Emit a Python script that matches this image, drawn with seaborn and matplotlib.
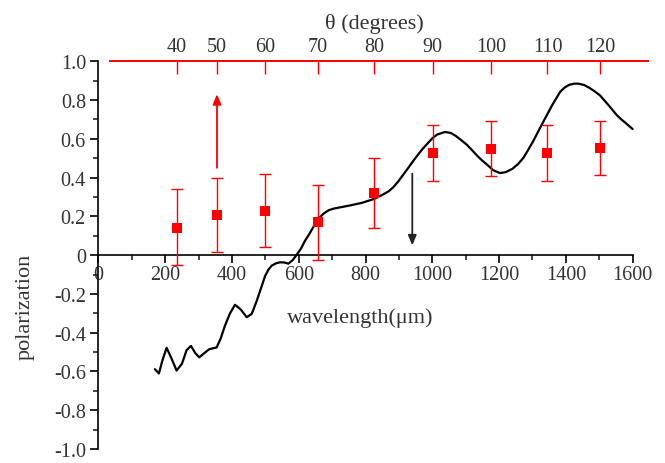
import numpy as np
import pandas as pd
import matplotlib
matplotlib.use("Agg")
import matplotlib.pyplot as plt
import seaborn as sns

# measured points (wavelength in um, polarization, error bar limits)
wavelength = [235, 355, 499, 658, 826, 1001, 1176, 1345, 1502]
polarization = [0.14, 0.205, 0.23, 0.17, 0.32, 0.525, 0.545, 0.525, 0.55]
err_low = [-0.052, 0.017, 0.043, -0.025, 0.14, 0.38, 0.406, 0.38, 0.414]
err_high = [0.34, 0.40, 0.42, 0.36, 0.50, 0.672, 0.689, 0.672, 0.694]
theta = [40, 50, 60, 70, 80, 90, 100, 110, 120]

# model curve
curve_x = [169, 181, 192, 204, 218, 234, 250, 264, 277, 290, 302, 317, 332, 354,
           366, 379, 394, 409, 426, 444, 459, 474, 487, 499, 509, 519, 532, 544,
           557, 569, 582, 594, 607, 619, 632, 644, 652, 660, 675, 690, 705, 720,
           753, 790, 826, 855, 870, 883, 898, 913, 928, 943, 958, 972, 987, 1001,
           1015, 1038, 1055, 1070, 1085, 1103, 1118, 1133, 1148, 1163, 1183, 1203,
           1220, 1240, 1257, 1273, 1288, 1303, 1318, 1333, 1358, 1383, 1397, 1410,
           1425, 1438, 1455, 1470, 1486, 1502, 1527, 1552, 1566, 1580, 1600]
curve_y = [-0.588, -0.61, -0.54, -0.478, -0.53, -0.595, -0.56, -0.49, -0.468, -0.505,
           -0.527, -0.505, -0.485, -0.476, -0.43, -0.363, -0.3, -0.256, -0.28, -0.32,
           -0.303, -0.236, -0.17, -0.108, -0.075, -0.054, -0.042, -0.037, -0.038,
           -0.044, -0.025, 0.002, 0.035, 0.075, 0.11, 0.146, 0.17, 0.19, 0.215,
           0.232, 0.24, 0.245, 0.256, 0.27, 0.29, 0.315, 0.33, 0.35, 0.38, 0.415,
           0.45, 0.486, 0.52, 0.55, 0.578, 0.604, 0.622, 0.635, 0.63, 0.615, 0.595,
           0.57, 0.543, 0.515, 0.49, 0.468, 0.437, 0.423, 0.428, 0.445, 0.47, 0.502,
           0.545, 0.59, 0.64, 0.689, 0.77, 0.842, 0.865, 0.878, 0.884, 0.884, 0.877,
           0.863, 0.845, 0.824, 0.775, 0.723, 0.7, 0.68, 0.65]

sns.set_style("ticks")
plt.rcParams['font.family'] = ['Liberation Serif', 'DejaVu Serif']

fig = plt.figure(figsize=(6.65, 4.64), dpi=100)
ax = fig.add_axes([0.1481, 0.030, 0.8293, 0.836])

curve = pd.DataFrame({"wl": curve_x, "pol": curve_y})
sns.lineplot(data=curve, x="wl", y="pol", color="black", linewidth=1.6, ax=ax,
             sort=False, solid_joinstyle="round", solid_capstyle="round")

pts = pd.DataFrame({"wl": wavelength, "pol": polarization})
yerr = [np.array(polarization) - np.array(err_low), np.array(err_high) - np.array(polarization)]
ax.errorbar(wavelength, polarization, yerr=yerr, fmt="none", ecolor="red",
            elinewidth=1.0, capsize=4.5, capthick=1.0, zorder=3)
sns.scatterplot(data=pts, x="wl", y="pol", marker="s", color="red", s=60,
                edgecolor="red", linewidth=0, ax=ax, zorder=4)

# arrows
ax.annotate("", xy=(355, 0.83), xytext=(355, 0.45),
            arrowprops=dict(arrowstyle="-|>,head_length=0.6,head_width=0.25",
                            color="red", lw=1.3, shrinkA=0, shrinkB=0))
ax.annotate("", xy=(940, 0.05), xytext=(940, 0.42),
            arrowprops=dict(arrowstyle="-|>,head_length=0.6,head_width=0.25",
                            color="#222222", lw=1.3, shrinkA=0, shrinkB=0))

ax.set_xlim(0, 1652)
ax.set_ylim(-1.0, 1.0)

ax.spines['right'].set_visible(False)
ax.spines['top'].set_visible(False)
ax.spines['bottom'].set_position(('data', 0))
ax.spines['bottom'].set_bounds(0, 1600)
ax.spines['left'].set_bounds(-1.0, 1.0)
for s in ['left', 'bottom']:
    ax.spines[s].set_linewidth(1.2)
    ax.spines[s].set_color('black')

ax.set_xticks(np.arange(0, 1601, 200))
ax.set_xticks(np.arange(100, 1600, 200), minor=True)
ax.set_yticks(np.arange(-1.0, 1.01, 0.2))
ax.set_yticks(np.arange(-0.9, 1.0, 0.2), minor=True)
ylabels = ["0" if abs(v) < 1e-9 else f"{v:.1f}" for v in np.arange(-1.0, 1.01, 0.2)]
ax.set_yticklabels(ylabels)
ax.tick_params(axis='both', which='major', direction='out', length=6, width=1.2,
               labelsize=14.5, colors='black', labelcolor='#333333')
ax.tick_params(axis='both', which='minor', direction='out', length=3.5, width=1.2)
ax.tick_params(axis='x', pad=1)
ax.tick_params(axis='y', pad=3)

ax.set_xlabel("wavelength(μm)", fontsize=16, color='#333333')
ax.xaxis.set_label_coords(0.474, 0.339)
ax.xaxis.label.set_va('center')
ax.set_ylabel("polarization", fontsize=16, color='#333333')
ax.yaxis.set_label_coords(-0.133, 0.369)
ax.yaxis.label.set_va('center')

# top theta axis
ax2 = ax.twiny()
ax2.set_xlim(ax.get_xlim())
for s in ['left', 'right', 'bottom']:
    ax2.spines[s].set_visible(False)
ax2.spines['top'].set_color('red')
ax2.spines['top'].set_linewidth(1.4)
ax2.spines['top'].set_bounds(34, 1646)
ax2.set_xticks(wavelength)
ax2.set_xticklabels([str(t) for t in theta])
ax2.tick_params(axis='x', direction='in', length=9, width=1.0, color='red',
                labelsize=14.5, labelcolor='#333333', pad=4)
ax2.set_xlabel("θ (degrees)", fontsize=16, color='#333333', labelpad=6)

fig.savefig("out.png", dpi=100)
